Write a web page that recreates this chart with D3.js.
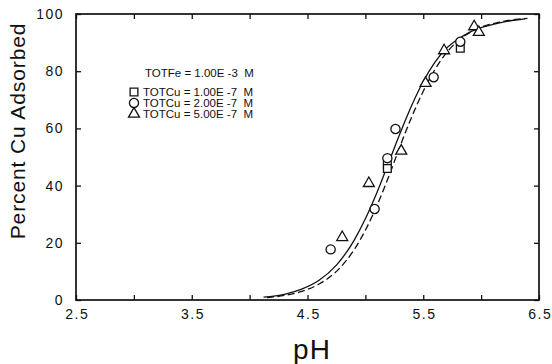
<!DOCTYPE html>
<html>
<head>
<meta charset="utf-8">
<script src="https://cdn.jsdelivr.net/npm/d3@7"></script>
<style>
  html, body { margin: 0; padding: 0; background: #fff; }
  svg { display: block; }
  text { font-family: "Liberation Sans", Arial, Helvetica, sans-serif; fill: #111; }
</style>
</head>
<body>
<svg id="chart" width="552" height="364"></svg>
<script>
// Model curves: percent Cu adsorbed vs pH
const solidPH  = [4.12, 4.30, 4.45, 4.60, 4.75, 4.90, 5.00, 5.10, 5.20, 5.30, 5.40, 5.50, 5.60, 5.70, 5.80, 5.90, 6.00, 6.15, 6.30, 6.38];
const solidPct = [1.0, 2.0, 3.8, 6.9, 12.2, 20.7, 28.4, 37.6, 47.9, 58.3, 68.0, 76.4, 83.1, 88.0, 91.2, 93.6, 95.2, 96.8, 97.9, 98.3];
const dashPH   = [4.15, 4.30, 4.45, 4.60, 4.75, 4.90, 5.00, 5.10, 5.20, 5.30, 5.40, 5.50, 5.60, 5.70, 5.80, 5.90, 6.00, 6.15, 6.30, 6.40];
const dashPct  = [0.8, 1.6, 3.0, 5.6, 10.0, 17.4, 24.4, 33.0, 43.0, 53.8, 64.0, 73.0, 80.5, 86.4, 90.6, 93.5, 95.4, 97.1, 98.1, 98.5];

// Measured points, one series per total Cu concentration
const cu1PH  = [5.19, 5.19, 5.82];
const cu1Pct = [47.5, 46.0, 88.0];
const cu2PH  = [4.70, 5.08, 5.19, 5.26, 5.59, 5.82];
const cu2Pct = [17.7, 31.8, 49.6, 59.8, 77.9, 90.3];
const cu5PH  = [4.80, 5.03, 5.31, 5.52, 5.68, 5.94, 5.98];
const cu5Pct = [21.9, 40.8, 52.1, 75.8, 87.2, 95.6, 93.6];

// Axis ticks
const xTicks = [2.5, 3.0, 3.5, 4.0, 4.5, 5.0, 5.5, 6.0, 6.5];
const xLabels = ["2.5", "3.5", "4.5", "5.5", "6.5"];
const yTicks = [0, 20, 40, 60, 80, 100];

const legendLines = ["TOTCu = 1.00E -7  M", "TOTCu = 2.00E -7  M", "TOTCu = 5.00E -7  M"];
const legendTitle = "TOTFe = 1.00E -3  M";

const svg = d3.select("#chart");
const L = 76, R = 539, T = 14, B = 300;
const x = d3.scaleLinear().domain([2.5, 6.5]).range([L, R]);
const y = d3.scaleLinear().domain([0, 100]).range([B, T]);

const fmtX = v => { const s = v.toFixed(1); return xLabels.includes(s) ? s : ""; };

function styleAxis(g) {
  g.select(".domain").remove();
  g.selectAll(".tick line").attr("stroke", "#111").attr("stroke-width", 1.3);
  g.selectAll(".tick text").style("font-size", "14px").style("letter-spacing", "1.5px")
    .attr("fill", "#111");
}

svg.append("g").attr("transform", `translate(0,${B})`)
  .call(d3.axisBottom(x).tickValues(xTicks).tickFormat(fmtX).tickSizeInner(-5).tickSizeOuter(0).tickPadding(9))
  .call(styleAxis)
  .call(g => g.selectAll(".tick text").attr("dx", "0.75px"));

svg.append("g").attr("transform", `translate(0,${T})`)
  .call(d3.axisTop(x).tickValues(xTicks).tickFormat("").tickSizeInner(-5).tickSizeOuter(0))
  .call(styleAxis);

svg.append("g").attr("transform", `translate(${L},0)`)
  .call(d3.axisLeft(y).tickValues(yTicks).tickFormat(d3.format("d")).tickSizeInner(-5).tickSizeOuter(0).tickPadding(12))
  .call(styleAxis);

svg.append("g").attr("transform", `translate(${R},0)`)
  .call(d3.axisRight(y).tickValues(yTicks).tickFormat("").tickSizeInner(-5).tickSizeOuter(0))
  .call(styleAxis);

// Frame
svg.append("rect").attr("x", L).attr("y", T).attr("width", R - L).attr("height", B - T)
  .attr("fill", "none").attr("stroke", "#111").attr("stroke-width", 1.7);

// Curves
const line = d3.line().x(d => x(d[0])).y(d => y(d[1])).curve(d3.curveMonotoneX);
svg.append("path").datum(d3.zip(solidPH, solidPct)).attr("d", line)
  .attr("fill", "none").attr("stroke", "#111").attr("stroke-width", 1.3);
svg.append("path").datum(d3.zip(dashPH, dashPct)).attr("d", line)
  .attr("fill", "none").attr("stroke", "#111").attr("stroke-width", 1.3)
  .attr("stroke-dasharray", "7,3.5");

// Markers
const sym = {
  square: d3.symbol().type(d3.symbolSquare).size(60),
  circle: d3.symbol().type(d3.symbolCircle).size(66),
  triangle: d3.symbol().type(d3.symbolTriangle).size(52)
};
function drawPoints(phs, pcts, kind) {
  svg.append("g").selectAll("path").data(d3.zip(phs, pcts)).join("path")
    .attr("d", sym[kind])
    .attr("transform", d => `translate(${x(d[0])},${y(d[1])})`)
    .attr("fill", "#fff").attr("stroke", "#111").attr("stroke-width", 1.3);
}
drawPoints(cu1PH, cu1Pct, "square");
drawPoints(cu2PH, cu2Pct, "circle");
drawPoints(cu5PH, cu5Pct, "triangle");

// Legend
const lg = svg.append("g");
lg.append("text").attr("x", 145).attr("y", 77).text(legendTitle)
  .style("font-size", "11.5px").style("white-space", "pre");
const kinds = ["square", "circle", "triangle"];
legendLines.forEach((t, i) => {
  const by = 96 + i * 11;
  lg.append("path").attr("d", sym[kinds[i]])
    .attr("transform", `translate(134,${by - 4})`)
    .attr("fill", "#fff").attr("stroke", "#111").attr("stroke-width", 1.3);
  lg.append("text").attr("x", 143).attr("y", by).text(t)
    .style("font-size", "11.5px").style("white-space", "pre");
});

// Axis titles
svg.append("text").attr("transform", "translate(25,131) rotate(-90)")
  .attr("text-anchor", "middle").style("font-size", "21px").style("letter-spacing", "0.9px")
  .text("Percent Cu Adsorbed");
svg.append("text").attr("x", 312).attr("y", 359).attr("text-anchor", "middle")
  .style("font-size", "28px").style("letter-spacing", "1px").text("pH");
</script>
</body>
</html>
